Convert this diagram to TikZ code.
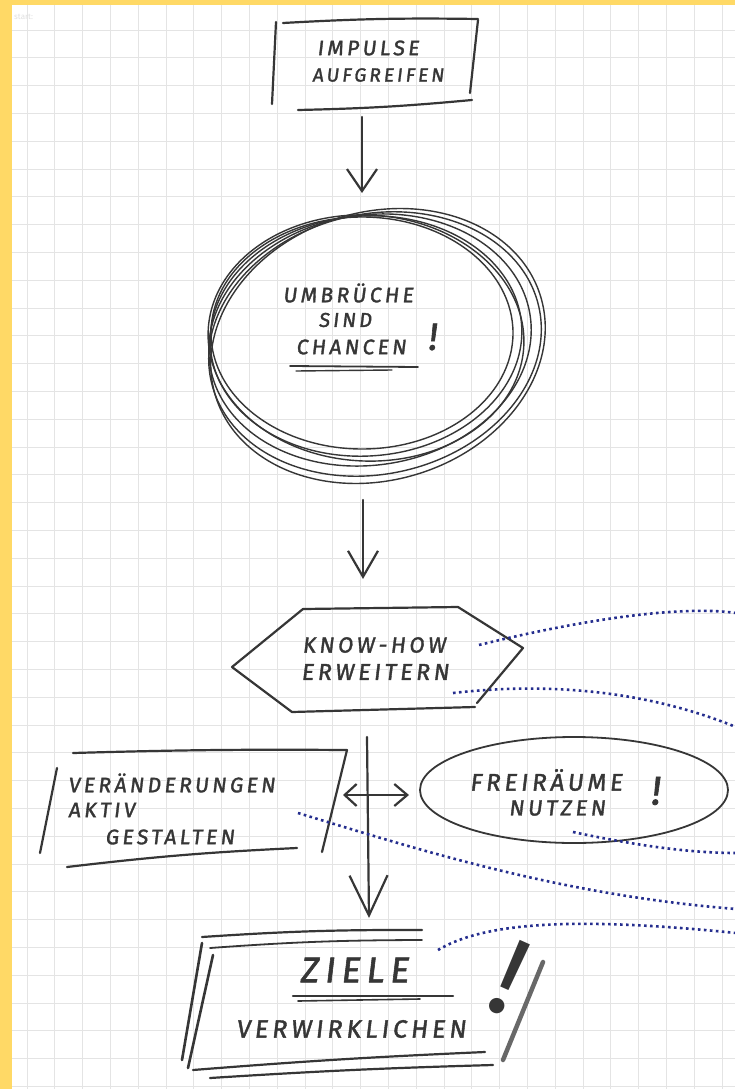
\documentclass[tikz,border=0pt]{standalone}
\usepackage{fontspec}
\setmainfont{Fira Sans}
\newfontfamily\hand[LetterSpace=16,FakeSlant=0.12,FakeBold=1.6]{Fira Sans}
\usetikzlibrary{arrows.meta}
\definecolor{pencil}{HTML}{363636}
\definecolor{gridc}{HTML}{E4E4E4}
\definecolor{dotblue}{HTML}{252E8E}
\definecolor{paperyellow}{HTML}{FFD966}
\newcommand{\hs}[1]{\hand\fontsize{#1}{#1}\selectfont}
\begin{document}
\begin{tikzpicture}[x=1pt,y=-1pt,
  pen/.style={draw=pencil, line width=2.2pt, line cap=round, line join=round},
  ring/.style={draw=pencil, line width=1.4pt},
  lbl/.style={text=pencil, inner sep=0pt, anchor=center},
  dots/.style={draw=dotblue, line width=2.6pt, dash pattern=on 2.6pt off 3.4pt},
  gridline/.style={draw=gridc, line width=0.9pt}
]
\useasboundingbox (0,0) rectangle (735,1089);
% paper
\fill[white] (0,0) rectangle (735,1089);
\foreach \k in {0,...,25} \draw[gridline] ({27+27.8*\k},5) -- ({27+27.8*\k},1089);
\foreach \k in {0,...,38} \draw[gridline] (12,{30+27.8*\k}) -- (735,{30+27.8*\k});
\fill[paperyellow] (0,0) rectangle (12,1089);
\fill[paperyellow] (0,0) rectangle (735,5);
\node[anchor=west, text=black!12, font=\fontsize{8}{8}\selectfont, inner sep=0pt] (hdr) at (14,17) {start:};

% ---------- IMPULSE AUFGREIFEN ----------
\draw[pen] (276,22) -- (272,104);
\draw[pen] (283,23) to[bend left=2] (478,19);
\draw[pen] (478,20) -- (470,93);
\draw[pen] (298,110) to[bend right=2] (472,100);
\node[lbl, font=\hs{21}] (imp1) at (368,48) {IMPULSE};
\node[lbl, font=\hs{19}] (imp2) at (378,75) {AUFGREIFEN};

% arrow 1
\coordinate (a1s) at (362,117);
\coordinate (a1e) at (362,193);
\draw[pen, -{Straight Barb[length=22pt,width=30pt]}] (a1s) -- (a1e);

% ---------- UMBRUECHE SIND CHANCEN ----------
\draw[ring] (362,333) ellipse [x radius=151, y radius=116];
\draw[ring, rotate around={4:(366,336)}] (366,336) ellipse [x radius=156, y radius=120];
\draw[ring, rotate around={9:(370,340)}] (370,340) ellipse [x radius=162, y radius=125];
\draw[ring, rotate around={13:(375,344)}] (375,344) ellipse [x radius=168, y radius=130];
\draw[ring, rotate around={17:(378,346)}] (378,346) ellipse [x radius=170, y radius=134];
\draw[ring, rotate around={-3:(366,338)}] (366,338) ellipse [x radius=158, y radius=123];
\node[lbl, font=\hs{21}] (umb1) at (348,293) {UMBRÜCHE};
\node[lbl, font=\hs{20}] (umb2) at (345,320) {SIND};
\node[lbl, font=\hs{21}] (umb3) at (351,347) {CHANCEN};
\node[lbl, font=\hs{38}] (umbx) at (432,337) {!};
\draw[pen, line width=1.8pt] (290,366) -- (418,367);
\draw[pen, line width=1.4pt] (296,371) -- (392,370);

% arrow 2
\coordinate (a2s) at (363,500);
\coordinate (a2e) at (363,579);
\draw[pen, -{Straight Barb[length=26pt,width=30pt]}] (a2s) -- (a2e);

% ---------- KNOW-HOW ERWEITERN ----------
\draw[pen] (303,609) -- (458,607) -- (523,648) -- (477,703);
\draw[pen] (475,707) -- (292,712) -- (232,667) -- (303,609);
\node[lbl, font=\hs{22}] (kh1) at (374,645) {KNOW-HOW};
\node[lbl, font=\hs{23}] (kh2) at (375,672) {ERWEITERN};

% ---------- VERAENDERUNGEN AKTIV GESTALTEN ----------
\draw[pen] (57,768) -- (40,853);
\draw[pen] (73,753) to[bend left=1] (347,750) -- (322,852);
\draw[pen] (67,867) to[bend left=2] (297,848);
\node[lbl, anchor=west, font=\hs{21}] (ver1) at (68,783) {VERÄNDERUNGEN};
\node[lbl, anchor=west, font=\hs{21}] (ver2) at (68,810) {AKTIV};
\node[lbl, anchor=west, font=\hs{21}] (ver3) at (105,837) {GESTALTEN};

% ---------- FREIRAEUME NUTZEN ----------
\draw[pen, line width=1.8pt] (574,790) ellipse [x radius=154, y radius=53];
\node[lbl, font=\hs{24}] (fr1) at (546,780) {FREIRÄUME};
\node[lbl, font=\hs{22}] (fr2) at (557,808) {NUTZEN};
\node[lbl, font=\hs{40}] (frx) at (655,791) {!};

% cross arrows
\coordinate (a3s) at (367,737);
\coordinate (a3e) at (369,918);
\draw[pen, -{Straight Barb[length=40pt,width=38pt]}] (a3s) -- (a3e);
\coordinate (d1) at (343,795);
\coordinate (d2) at (409,795);
\draw[pen, {Straight Barb[length=12pt,width=22pt]}-{Straight Barb[length=13pt,width=22pt]}] (d1) -- (d2);

% ---------- ZIELE VERWIRKLICHEN ----------
\draw[pen] (202,937) to[bend left=2] (422,930);
\draw[pen, line width=1.8pt] (210,948) to[bend left=2] (422,940);
\draw[pen, line width=2.6pt] (202,943) -- (182,1060);
\draw[pen, line width=2.6pt] (213,955) -- (188,1068);
\draw[pen] (193,1070) to[bend left=1] (485,1052);
\draw[pen] (210,1078) to[bend left=1] (493,1065);
\node[lbl, font=\hs{36}] (zi1) at (354,970) {ZIELE};
\draw[pen, line width=2.4pt] (293,996) -- (453,996);
\draw[pen, line width=1.6pt] (298,1001) -- (420,999);
\node[lbl, font=\hs{25}] (zi2) at (351,1029) {VERWIRKLICHEN};
\draw[pen, line width=4.5pt, draw=pencil!75] (543,962) -- (503,1060);
\node[lbl, font=\fontsize{110}{110}\selectfont, rotate=-24] (zix) at (510,978) {!};

% ---------- dotted connectors ----------
\coordinate (s1) at (479,645);
\coordinate (s2) at (453,693);
\coordinate (s3) at (573,832);
\coordinate (s4) at (298,813);
\coordinate (s5) at (438,950);
\coordinate (r1) at (736,613);
\coordinate (r2) at (736,727);
\coordinate (r3) at (736,853);
\coordinate (r4) at (736,909);
\coordinate (r5) at (736,933);
\draw[dots] (s1) .. controls (580,620) and (680,605) .. (r1);
\draw[dots] (s2) .. controls (540,683) and (640,688) .. (r2);
\draw[dots] (s3) .. controls (620,842) and (680,853) .. (r3);
\draw[dots] (s4) .. controls (420,850) and (560,895) .. (r4);
\draw[dots] (s5) .. controls (480,925) and (560,915) .. (r5);
\end{tikzpicture}
\end{document}
